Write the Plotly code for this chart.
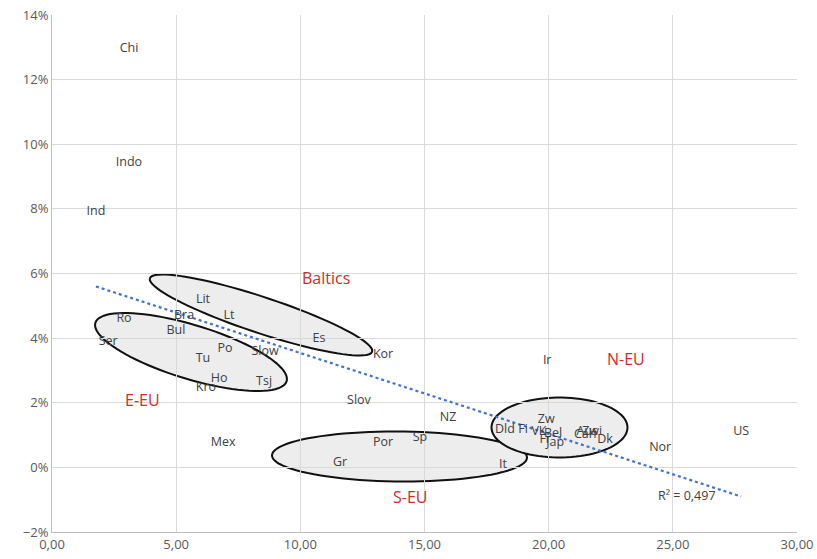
import numpy as np
import plotly.graph_objects as go

# ---------------- data ----------------
countries = ["Chi", "Indo", "Ind", "Ro", "Ser", "Bra", "Lit", "Lt", "Bul", "Po",
             "Tu", "Slow", "Ho", "Kro", "Tsj", "Es", "Kor", "Slov", "Mex", "NZ",
             "Sp", "Por", "Gr", "It", "Ir", "Zw", "Dld", "Fi", "VK", "Bel",
             "Fr", "Jap", "Aus", "Zwi", "Can", "Dk", "Nor", "US"]
x_vals = [3.10, 3.10, 1.77, 2.90, 2.26, 5.32, 6.08, 7.13, 4.99, 6.97,
          6.08, 8.58, 6.73, 6.20, 8.54, 10.75, 13.33, 12.36, 6.89, 15.95,
          14.82, 13.33, 11.60, 18.16, 19.94, 19.90, 18.24, 18.97, 19.61, 20.18,
          19.86, 20.26, 21.55, 21.75, 21.47, 22.27, 24.49, 27.75]
y_vals = [0.1295, 0.0942, 0.0791, 0.0459, 0.0388, 0.0469, 0.0518, 0.0469, 0.0422, 0.0366,
          0.0335, 0.0357, 0.0274, 0.0246, 0.0264, 0.0397, 0.0348, 0.0205, 0.0075, 0.0153,
          0.0091, 0.0075, 0.0014, 0.0007, 0.0329, 0.0147, 0.0116, 0.0116, 0.0110, 0.0103,
          0.0085, 0.0075, 0.0110, 0.0110, 0.0100, 0.0085, 0.0060, 0.0110]
group_names = ["Baltics", "E-EU", "S-EU", "N-EU"]
r2_label = "R² = 0,497"

# ---------------- geometry ----------------
W, H = 817, 559
ML, MR, MT, MB = 52, 20, 15, 27
X_RANGE = [0, 30]
Y_RANGE = [-0.02, 0.14]
PW, PH = W - ML - MR, H - MT - MB


def px_to_data(px, py):
    x = X_RANGE[0] + (px - ML) / PW * (X_RANGE[1] - X_RANGE[0])
    y = Y_RANGE[1] - (py - MT) / PH * (Y_RANGE[1] - Y_RANGE[0])
    return x, y


def ellipse_path(cx, cy, a, b, ang_deg, n=90):
    t = np.linspace(0, 2 * np.pi, n, endpoint=False)
    ang = np.deg2rad(ang_deg)
    ex = a * np.cos(t)
    ey = b * np.sin(t)
    px = cx + ex * np.cos(ang) - ey * np.sin(ang)
    py = cy + ex * np.sin(ang) + ey * np.cos(ang)
    pts = [px_to_data(u, v) for u, v in zip(px, py)]
    return "M " + " L ".join(f"{u:.4f},{v:.6f}" for u, v in pts) + " Z"


# ellipses in pixel space: (cx, cy, a, b, angle)
ellipses = [
    (261, 315, 117, 18, 18.3),   # Baltics
    (191, 352, 100, 27, 17.0),   # E-EU
    (399.5, 456.5, 127.5, 25, 0.5),  # S-EU
    (559.5, 427.5, 68, 30, 0),   # N-EU
]
group_pos = [(326, 278), (142, 400), (410, 497), (626, 359)]

fig = go.Figure()

# trendline (linear fit of the data)
xa = np.array(x_vals)
ya = np.array(y_vals)
k, c = np.polyfit(xa, ya, 1)
tx = np.array([xa.min(), xa.max()])
fig.add_trace(go.Scatter(x=tx, y=k * tx + c, mode="lines",
                         line=dict(color="#4472C4", width=2.2, dash="dot"),
                         hoverinfo="skip", showlegend=False))

fig.add_trace(go.Scatter(x=x_vals, y=y_vals, mode="text", text=countries,
                         textposition="middle center",
                         textfont=dict(family="Open Sans", size=12.5, color="#404040"),
                         showlegend=False))

shapes = []
for (cx, cy, a, b, ang) in ellipses:
    shapes.append(dict(type="path", path=ellipse_path(cx, cy, a, b, ang),
                       xref="x", yref="y", layer="below",
                       fillcolor="#EDEDED", line=dict(color="#111111", width=2)))

annotations = []
for name, (gx, gy) in zip(group_names, group_pos):
    dx, dy = px_to_data(gx, gy)
    annotations.append(dict(x=dx, y=dy, xref="x", yref="y", text=name, showarrow=False,
                            font=dict(family="Open Sans", size=16, color="#D22B2B")))
rx, ry = px_to_data(687, 495)
annotations.append(dict(x=rx, y=ry, xref="x", yref="y", text=r2_label, showarrow=False,
                        font=dict(family="Open Sans", size=12.5, color="#404040")))

fig.update_layout(
    width=W, height=H,
    margin=dict(l=ML, r=MR, t=MT, b=MB, autoexpand=False),
    paper_bgcolor="white", plot_bgcolor="white",
    separators=",.",
    shapes=shapes, annotations=annotations,
    font=dict(family="Open Sans", size=13, color="#595959"),
    xaxis=dict(range=X_RANGE, dtick=5, tick0=0, tickformat=".2f", automargin=False,
               showgrid=True, gridcolor="#D9D9D9", gridwidth=1,
               zeroline=False, showline=True, linecolor="#BFBFBF", linewidth=1,
               ticks="", ticklen=0, tickfont=dict(size=13, color="#595959")),
    yaxis=dict(range=Y_RANGE, dtick=0.02, tick0=0, tickformat=".0%", automargin=False,
               showgrid=True, gridcolor="#D9D9D9", gridwidth=1,
               zeroline=False, showline=True, linecolor="#BFBFBF", linewidth=1,
               ticks="", tickfont=dict(size=13, color="#595959")),
)

fig.write_html("out.html", config={"displayModeBar": False},
               post_script="document.body.style.margin='0';document.body.style.overflow='hidden';")
